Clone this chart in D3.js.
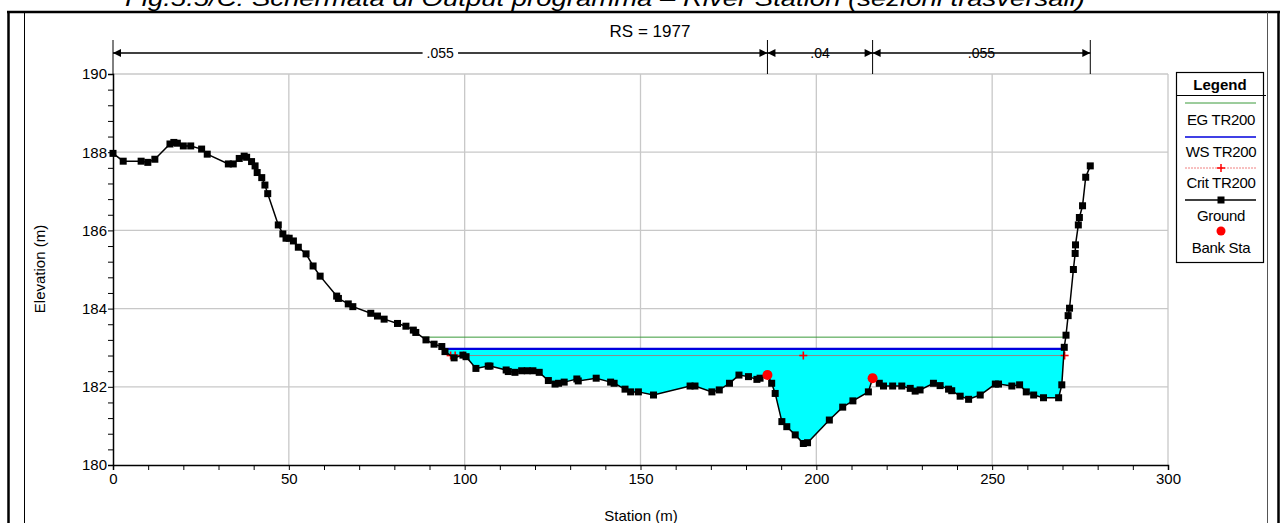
<!DOCTYPE html>
<html><head><meta charset="utf-8">
<script src="https://cdn.jsdelivr.net/npm/d3@7"></script>
<style>
html,body{margin:0;padding:0;background:#fff;}
svg{display:block;font-family:"Liberation Sans",Arial,sans-serif;}
</style></head>
<body>
<svg id="c" width="1283" height="523"></svg>
<script>
// ---------- data ----------
const stations = [0,2.9,8.0,9.9,11.9,16.2,17.3,18.3,20.0,22.1,25.2,26.8,32.8,34.2,35.9,37.3,38.0,39.4,40.4,41.0,42.3,43.2,44.0,47.0,48.3,49.2,50.1,51.3,52.7,54.9,56.9,58.9,63.6,64.1,66.9,68.2,73.3,75.2,77.1,80.9,83.3,85.4,86.1,89.0,91.3,93.5,94.4,97.0,99.5,100.4,103.2,106.7,107.2,111.8,112.4,114.3,116.2,117.8,119.4,121.2,123.8,125.7,126.7,128.3,131.9,132.3,137.4,141.5,142.5,145.6,147.2,149.4,153.7,164.1,165.5,170.3,172.4,175.3,178.0,180.7,183.1,184.0,186.1,187.3,188.3,190.2,191.6,194.0,196.3,197.5,203.7,207.5,210.4,214.8,216.0,217.9,219.1,221.7,224.3,226.7,228.1,229.5,233.3,235.2,237.6,238.5,240.9,243.3,246.6,250.9,251.8,255.6,257.8,259.7,261.8,264.6,268.9,269.8,270.5,271.0,271.6,272.0,273.1,273.6,273.7,274.5,274.8,275.7,276.6,277.9];
const elevations = [187.97,187.77,187.77,187.74,187.82,188.21,188.25,188.23,188.16,188.16,188.08,187.95,187.70,187.70,187.84,187.90,187.87,187.76,187.65,187.48,187.35,187.16,186.94,186.14,185.91,185.80,185.80,185.73,185.57,185.40,185.09,184.83,184.32,184.26,184.12,184.05,183.88,183.81,183.73,183.62,183.55,183.45,183.39,183.20,183.09,183.03,182.90,182.74,182.81,182.77,182.47,182.53,182.53,182.43,182.39,182.37,182.41,182.41,182.41,182.37,182.16,182.07,182.09,182.12,182.20,182.15,182.22,182.12,182.09,181.94,181.87,181.87,181.79,182.02,182.02,181.87,181.92,182.09,182.30,182.26,182.19,182.22,182.30,182.09,181.83,181.11,180.98,180.77,180.55,180.57,181.15,181.48,181.64,181.87,182.22,182.09,182.02,182.02,182.02,181.96,181.89,181.92,182.09,182.03,181.94,181.90,181.76,181.68,181.79,182.07,182.07,182.02,182.05,181.87,181.79,181.72,181.72,182.05,183.01,183.32,183.82,184.01,185.00,185.41,185.63,186.14,186.33,186.63,187.36,187.65];
const bankStations = [186.1, 216.0];
const bankElevations = [182.30, 182.22];
const critStations = [96.0, 97.3, 99.7, 196.3, 270.6];
const egLevel = 183.27;
const wsLevel = 182.97;
const critLevel = 182.80;
const manningValues = [".055", ".04", ".055"];
const xTicks = [0,50,100,150,200,250,300];
const yTicks = [180,182,184,186,188,190];
const legendLabels = ["EG TR200","WS TR200","Crit TR200","Ground","Bank Sta"];
const chartTitle = "RS = 1977";
const figCaption = "Fig.5.5/C: Schermata di Output programma – River Station (sezioni trasversali)";

// ---------- layout ----------
const svg = d3.select("#c");
const L = 113, R = 1168, T = 74, B = 465;
const x = d3.scaleLinear().domain([0,300]).range([L,R]);
const y = d3.scaleLinear().domain([180,190]).range([B,T]);
const ground = stations.map((s,i)=>({s, e:elevations[i]}));
const FS = 15;

// page frame
svg.append("text").attr("x",125).attr("y",6).attr("font-size",22).attr("font-style","italic")
  .attr("textLength",960).attr("lengthAdjust","spacingAndGlyphs").text(figCaption);
svg.append("line").attr("x1",7).attr("x2",1280).attr("y1",12).attr("y2",12).attr("stroke","#000").attr("stroke-width",2.5);
svg.append("line").attr("x1",8.5).attr("x2",8.5).attr("y1",11).attr("y2",523).attr("stroke","#000").attr("stroke-width",2.5);
svg.append("line").attr("x1",1278.5).attr("x2",1278.5).attr("y1",11).attr("y2",523).attr("stroke","#000").attr("stroke-width",2.5);
svg.append("line").attr("x1",24.5).attr("x2",24.5).attr("y1",12).attr("y2",523).attr("stroke","#000").attr("stroke-width",1);
svg.append("line").attr("x1",1267.5).attr("x2",1267.5).attr("y1",12).attr("y2",523).attr("stroke","#555").attr("stroke-width",1);

// gridlines
const grid = svg.append("g").attr("stroke","#c8c8c8").attr("stroke-width",1.3);
xTicks.filter(v=>v>0).forEach(v=>grid.append("line").attr("x1",x(v)).attr("x2",x(v)).attr("y1",T).attr("y2",B));
yTicks.filter(v=>v>180).forEach(v=>grid.append("line").attr("x1",L).attr("x2",R).attr("y1",y(v)).attr("y2",y(v)));

// water fill (clipped below WS level)
svg.append("clipPath").attr("id","wclip").append("rect")
  .attr("x",L).attr("y",y(wsLevel)+1).attr("width",R-L).attr("height",B-y(wsLevel));
svg.append("path").datum(ground).attr("clip-path","url(#wclip)")
  .attr("fill","#00ffff")
  .attr("d", d3.area().x(d=>x(d.s)).y0(y(wsLevel)-2).y1(d=>y(d.e)));

// crossing helper
function crossings(level){
  let left=null,right=null;
  for(let i=1;i<ground.length;i++){
    const a=ground[i-1],b=ground[i];
    if((a.e-level)*(b.e-level)<=0 && a.e!==b.e){
      const s=a.s+(level-a.e)*(b.s-a.s)/(b.e-a.e);
      if(left===null) left=s; right=s;
    }
  }
  return [left,right];
}
function levelLine(level,color,width){
  const [a,b]=crossings(level);
  svg.append("line").attr("x1",x(a)).attr("x2",x(b)).attr("y1",y(level)).attr("y2",y(level))
    .attr("stroke",color).attr("stroke-width",width);
}
levelLine(egLevel,"#3a9a3a",1);
levelLine(critLevel,"#8c8c8c",1);
levelLine(wsLevel,"#0000dd",2.4);

// crit markers
const cm = svg.append("g").attr("stroke","#ff0000").attr("stroke-width",1.6);
critStations.forEach(s=>{
  cm.append("line").attr("x1",x(s)-4).attr("x2",x(s)+4).attr("y1",y(critLevel)).attr("y2",y(critLevel));
  cm.append("line").attr("x1",x(s)).attr("x2",x(s)).attr("y1",y(critLevel)-4).attr("y2",y(critLevel)+4);
});

// ground line + markers
svg.append("path").datum(ground).attr("fill","none").attr("stroke","#000").attr("stroke-width",1.5)
  .attr("d", d3.line().x(d=>x(d.s)).y(d=>y(d.e)));
svg.append("g").selectAll("rect").data(ground).join("rect")
  .attr("x",d=>x(d.s)-3.5).attr("y",d=>y(d.e)-3.5).attr("width",7).attr("height",7).attr("fill","#000");

// bank stations
svg.append("g").selectAll("circle").data(bankStations).join("circle")
  .attr("cx",d=>x(d)).attr("cy",(d,i)=>y(bankElevations[i])).attr("r",5).attr("fill","#ff0000");

// axes
const xAxis = d3.axisBottom(x).tickValues(d3.range(0,301,10)).tickSize(5).tickPadding(3)
  .tickFormat(v=>xTicks.includes(v)?v:"");
const gx = svg.append("g").attr("transform",`translate(0,${B})`).call(xAxis);
gx.select(".domain").attr("stroke-width",1.5);
gx.selectAll("text").attr("font-size",FS).attr("font-family","Liberation Sans, Arial");
const yAxis = d3.axisLeft(y).tickValues(d3.range(0,26).map(i=>180+i*0.4)).tickSize(5).tickPadding(1)
  .tickFormat(v=>{const r=Math.round(v*10)/10; return yTicks.includes(r)?r:"";});
const gy = svg.append("g").attr("transform",`translate(${L},0)`).call(yAxis);
gy.select(".domain").attr("stroke-width",1.5);
gy.selectAll("text").attr("font-size",FS).attr("font-family","Liberation Sans, Arial");

svg.append("text").attr("x",641).attr("y",521).attr("text-anchor","middle").attr("font-size",FS).text("Station (m)");
svg.append("text").attr("transform","translate(45,269) rotate(-90)").attr("text-anchor","middle").attr("font-size",FS).text("Elevation (m)");
svg.append("text").attr("x",650).attr("y",37).attr("text-anchor","middle").attr("font-size",17).text(chartTitle);

// Manning n band
const bounds = [0, bankStations[0], bankStations[1], stations[stations.length-1]];
const my = 53;
const mg = svg.append("g");
bounds.forEach(b=>mg.append("line").attr("x1",x(b)).attr("x2",x(b)).attr("y1",40).attr("y2",T).attr("stroke","#000").attr("stroke-width",1));
manningValues.forEach((v,i)=>{
  const a=x(bounds[i]), b=x(bounds[i+1]);
  mg.append("line").attr("x1",a).attr("x2",b).attr("y1",my).attr("y2",my).attr("stroke","#000").attr("stroke-width",1.5);
  mg.append("path").attr("d",`M${a},${my}L${a+8},${my-4}L${a+8},${my+4}Z`).attr("fill","#000");
  mg.append("path").attr("d",`M${b},${my}L${b-8},${my-4}L${b-8},${my+4}Z`).attr("fill","#000");
  const t = mg.append("text").attr("x",(a+b)/2).attr("y",my+5).attr("text-anchor","middle").attr("font-size",14).text(v);
  const bb = t.node().getBBox();
  mg.insert("rect","text").attr("x",bb.x-4).attr("y",bb.y).attr("width",bb.width+8).attr("height",bb.height).attr("fill","#fff");
});
mg.selectAll("text").raise();

// legend
const lg = svg.append("g");
lg.append("rect").attr("x",1176.5).attr("y",72.5).attr("width",87).attr("height",190).attr("fill","#fff").attr("stroke","#000").attr("stroke-width",1.2);
lg.append("text").attr("x",1220).attr("y",90).attr("text-anchor","middle").attr("font-size",FS).attr("font-weight","bold").text("Legend");
lg.append("line").attr("x1",1176).attr("x2",1266).attr("y1",95.5).attr("y2",95.5).attr("stroke","#000").attr("stroke-width",1.2);
const lx1=1185, lx2=1256, lc=1221;
lg.append("line").attr("x1",lx1).attr("x2",lx2).attr("y1",103).attr("y2",103).attr("stroke","#3a9a3a").attr("stroke-width",1);
lg.append("line").attr("x1",lx1).attr("x2",lx2).attr("y1",137).attr("y2",137).attr("stroke","#0000dd").attr("stroke-width",1.5);
lg.append("line").attr("x1",lx1).attr("x2",lx2).attr("y1",168).attr("y2",168).attr("stroke","#f08080").attr("stroke-width",1).attr("stroke-dasharray","2,1");
lg.append("line").attr("x1",lc-4).attr("x2",lc+4).attr("y1",168).attr("y2",168).attr("stroke","#ff0000").attr("stroke-width",1.5);
lg.append("line").attr("x1",lc).attr("x2",lc).attr("y1",164).attr("y2",172).attr("stroke","#ff0000").attr("stroke-width",1.5);
lg.append("line").attr("x1",lx1).attr("x2",lx2).attr("y1",200).attr("y2",200).attr("stroke","#000").attr("stroke-width",1.3);
lg.append("rect").attr("x",lc-3.5).attr("y",196.5).attr("width",7).attr("height",7).attr("fill","#000");
lg.append("circle").attr("cx",lc).attr("cy",231).attr("r",4.5).attr("fill","#ff0000");
const ly=[125,157,188,221,253];
legendLabels.forEach((t,i)=>lg.append("text").attr("x",lc).attr("y",ly[i]).attr("text-anchor","middle")
  .attr("font-size",FS).attr("letter-spacing",-0.3).text(t));
</script>
</body></html>
